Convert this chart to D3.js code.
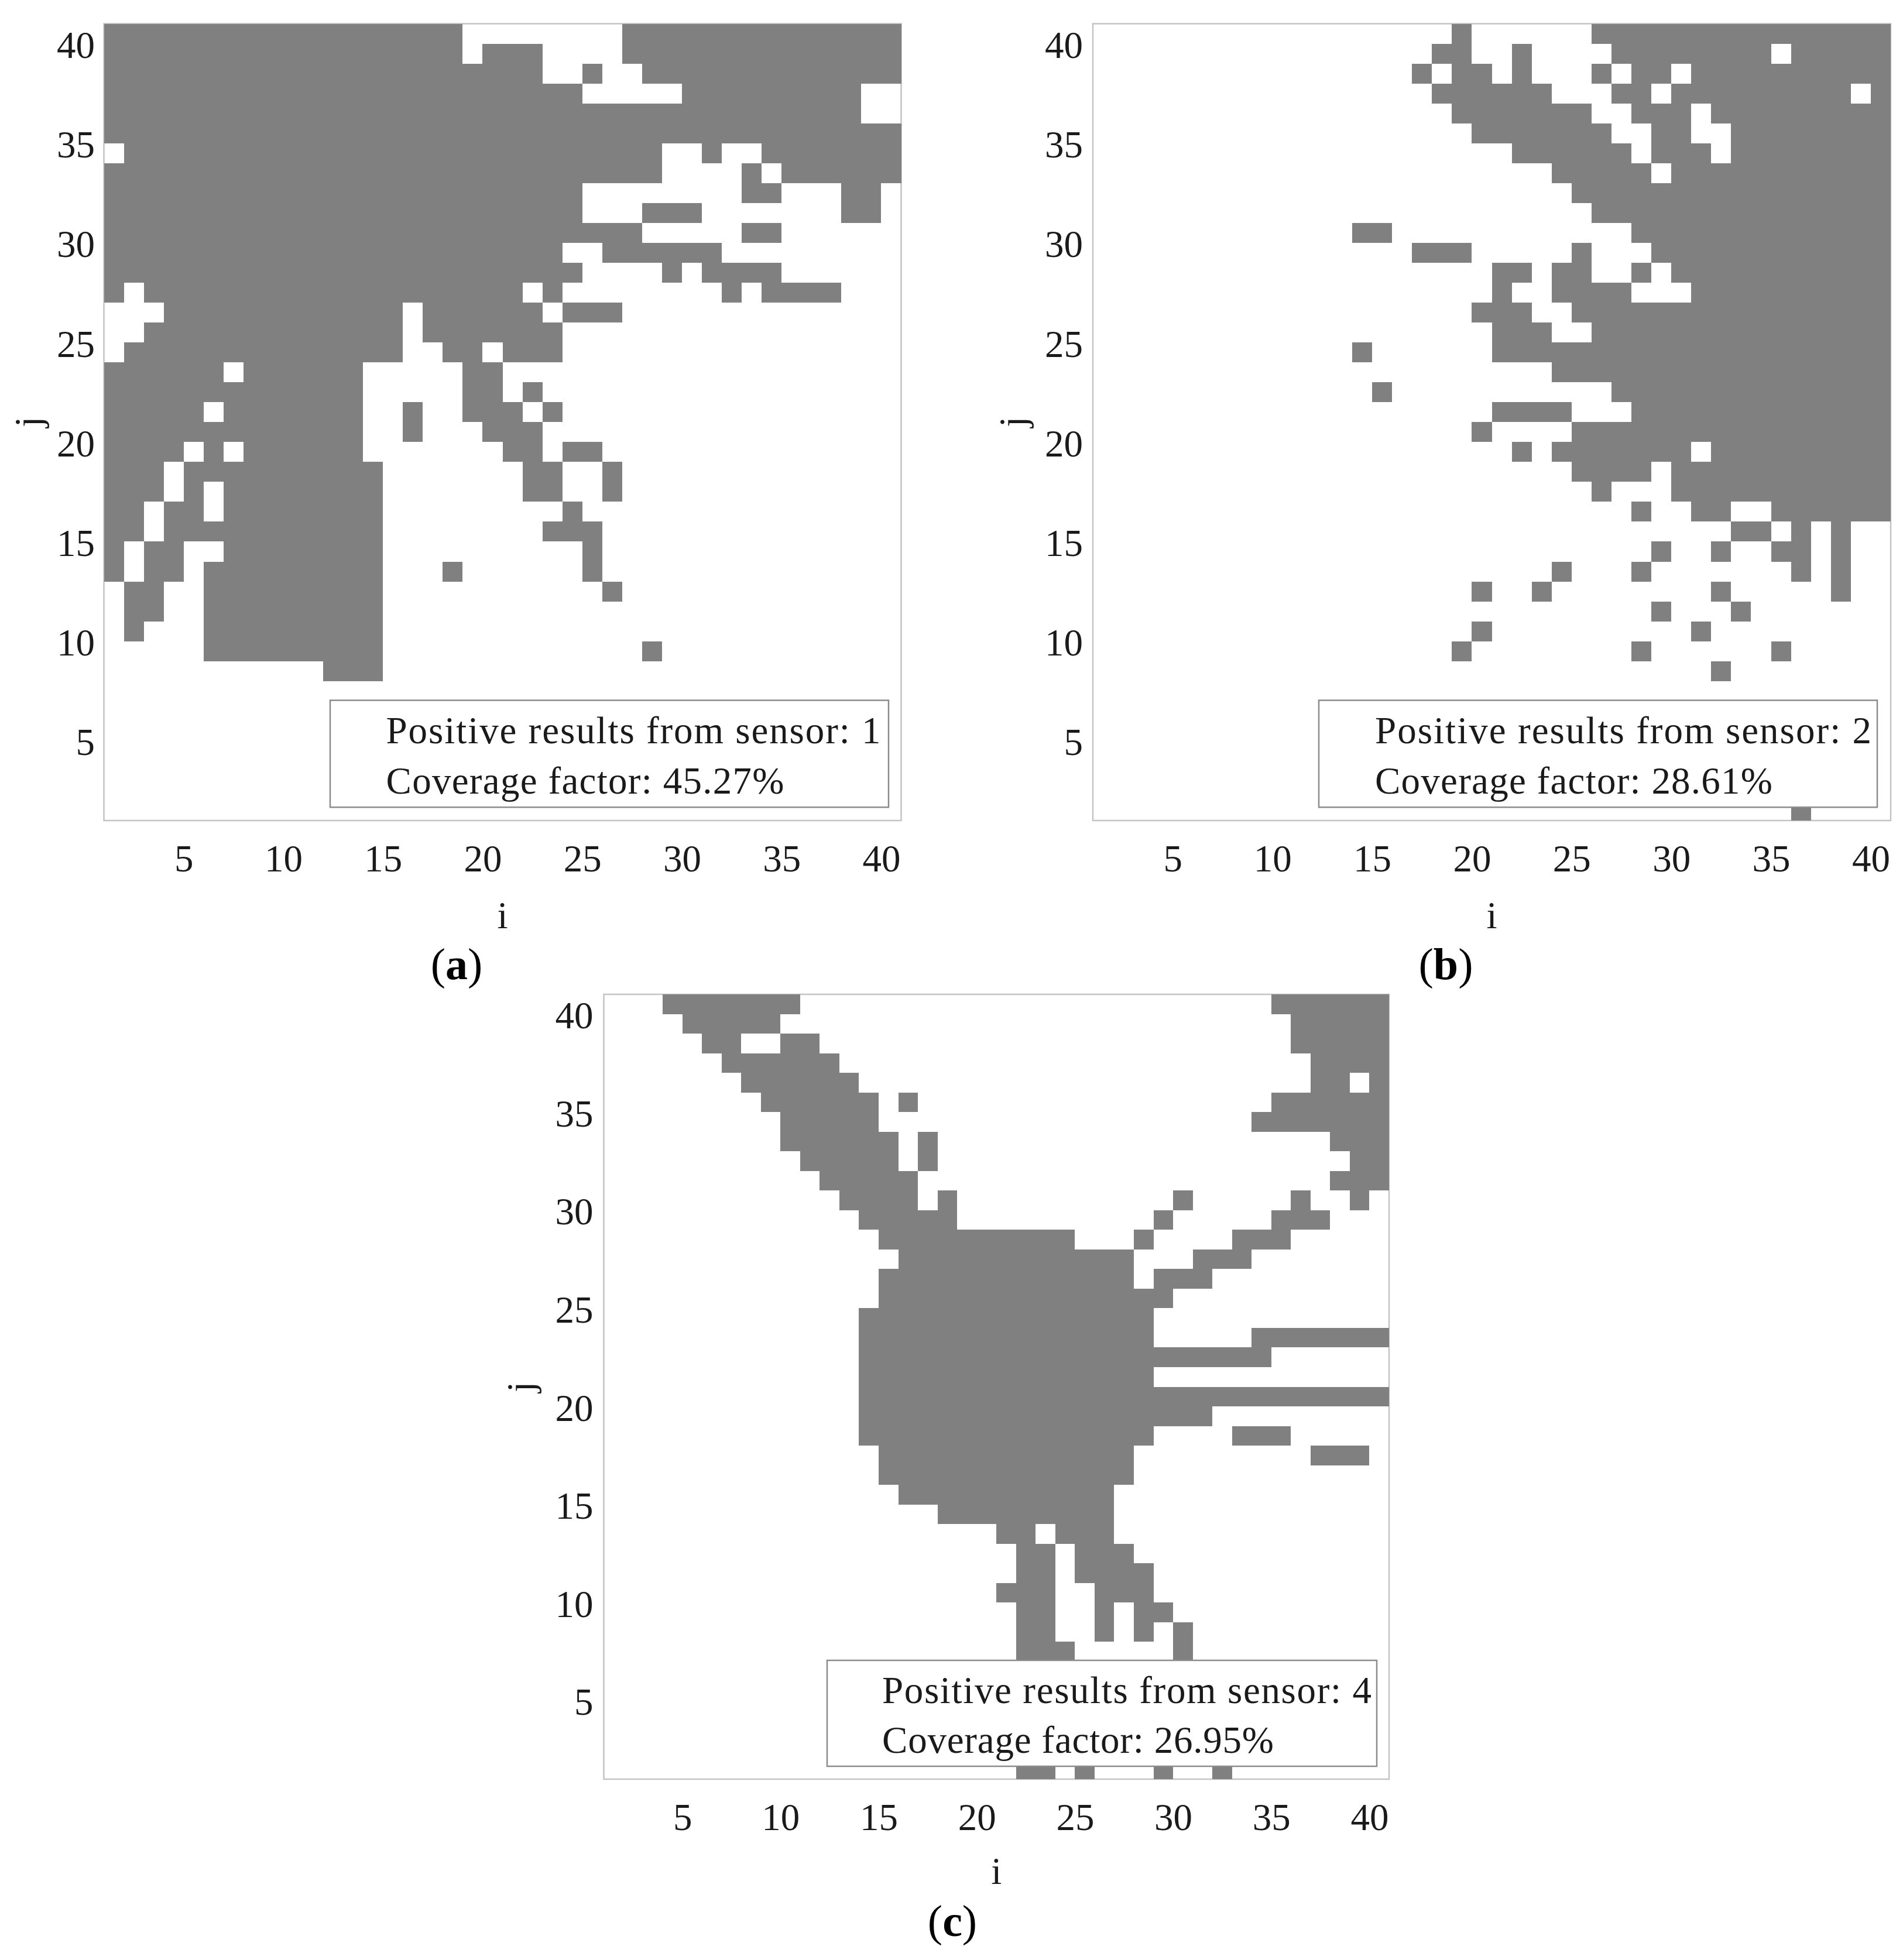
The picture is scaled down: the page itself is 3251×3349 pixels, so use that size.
<!DOCTYPE html>
<html>
<head>
<meta charset="utf-8">
<script src="https://cdn.jsdelivr.net/npm/d3@7"></script>
<style>html,body{margin:0;padding:0;background:#fff}svg{display:block}</style>
</head>
<body>
<script>
// Grid values: each row is [j, [firstI,lastI], [firstI,lastI], ...] = positive cells
const iTicks = [5,10,15,20,25,30,35,40];
const jTicks = [5,10,15,20,25,30,35,40];
const sensor1Rows = [
[40,[1,18],[27,40]],[39,[1,18],[20,22],[27,40]],[38,[1,22],[25,25],[28,40]],[37,[1,24],[30,38]],
[36,[1,38]],[35,[1,40]],[34,[2,28],[31,31],[34,40]],[33,[1,28],[33,33],[35,40]],
[32,[1,24],[33,34],[38,39]],[31,[1,24],[28,30],[38,39]],[30,[1,27],[33,34]],[29,[1,23],[26,31]],
[28,[1,24],[29,29],[31,34]],[27,[1,1],[3,21],[23,23],[32,32],[34,37]],[26,[4,15],[17,22],[24,26]],
[25,[3,15],[17,23]],[24,[2,15],[18,19],[21,23]],[23,[1,6],[8,13],[19,20]],[22,[1,13],[19,20],[22,22]],
[21,[1,5],[7,13],[16,16],[19,21],[23,23]],[20,[1,13],[16,16],[20,22]],
[19,[1,4],[6,6],[8,13],[21,22],[24,25]],[18,[1,3],[5,14],[22,23],[26,26]],
[17,[1,3],[5,5],[7,14],[22,23],[26,26]],[16,[1,2],[4,5],[7,14],[24,24]],[15,[1,2],[4,14],[23,25]],
[14,[1,1],[3,4],[7,14],[25,25]],[13,[1,1],[3,4],[6,14],[18,18],[25,25]],[12,[2,3],[6,14],[26,26]],
[11,[2,3],[6,14]],[10,[2,2],[6,14]],[9,[6,14],[28,28]],[8,[12,14]]
];
const sensor2Rows = [
[40,[19,19],[26,40]],[39,[18,19],[22,22],[27,34],[36,40]],[38,[17,17],[19,20],[22,22],[26,26],[28,29],[31,40]],
[37,[18,23],[27,28],[30,38],[40,40]],[36,[19,25],[28,30],[32,40]],[35,[20,26],[29,30],[33,40]],
[34,[22,27],[29,31],[33,40]],[33,[24,28],[30,40]],[32,[25,40]],[31,[26,40]],[30,[14,15],[28,40]],
[29,[17,19],[25,25],[29,40]],[28,[21,22],[24,25],[28,28],[30,40]],[27,[21,21],[24,27],[31,40]],
[26,[20,22],[25,40]],[25,[21,23],[26,40]],[24,[14,14],[21,40]],[23,[24,40]],[22,[15,15],[27,40]],
[21,[21,24],[28,40]],[20,[20,20],[25,40]],[19,[22,22],[24,30],[32,40]],[18,[25,28],[30,40]],
[17,[26,26],[30,40]],[16,[28,28],[31,32],[35,40]],[15,[33,34],[36,36],[38,38]],
[14,[29,29],[32,32],[35,36],[38,38]],[13,[24,24],[28,28],[36,36],[38,38]],
[12,[20,20],[23,23],[32,32],[38,38]],[11,[29,29],[33,33]],[10,[20,20],[31,31]],
[9,[19,19],[28,28],[35,35]],[8,[32,32]],[1,[36,36]]
];
const sensor4Rows = [
[40,[4,10],[35,40]],[39,[5,9],[36,40]],[38,[6,7],[10,11],[36,40]],[37,[7,12],[37,40]],
[36,[8,13],[37,38],[40,40]],[35,[9,14],[16,16],[35,40]],[34,[10,14],[34,40]],[33,[10,15],[17,17],[38,40]],
[32,[11,15],[17,17],[39,40]],[31,[12,16],[38,40]],[30,[13,16],[18,18],[30,30],[36,36],[39,39]],
[29,[14,18],[29,29],[35,37]],[28,[15,24],[28,28],[33,35]],[27,[16,27],[31,33]],[26,[15,27],[29,31]],
[25,[15,29]],[24,[14,28]],[23,[14,28],[34,40]],[22,[14,34]],[21,[14,28]],[20,[14,40]],[19,[14,31]],
[18,[14,28],[33,35]],[17,[15,27],[37,39]],[16,[15,27]],[15,[16,26]],[14,[18,26]],
[13,[21,22],[24,26]],[12,[22,23],[25,27]],[11,[22,23],[25,28]],[10,[21,23],[26,28]],
[9,[22,23],[26,26],[28,29]],[8,[22,23],[26,26],[28,28],[30,30]],[7,[22,24],[30,30]],
[1,[22,23],[25,25],[29,29],[32,32]]
];
const panelTags = ["a","b","c"];
const sensorIds = [1,2,4];
const coverages = ["45.27%","28.61%","26.95%"];

const W = 3251, H = 3349, FS = 65, GRAY = "#808080", SERIF = "'Liberation Serif','Times New Roman',serif";

const svg = d3.select("body").append("svg").attr("width",W).attr("height",H)
  .attr("viewBox",`0 0 ${W} ${H}`).style("font-family",SERIF);
svg.append("rect").attr("width",W).attr("height",H).attr("fill","#fff");

const layouts = [
 {rows:sensor1Rows,x0:177.5,x1:1539.5,y0:40.5,y1:1402,
  box:[564,1196.6,1518,1379.3],tx:659.5,b1:1269.6,b2:1356,l1:845,l2:680,tagX:780,tagY:1673,iY:184,jX:70,jY:721,tp:15.5},
 {rows:sensor2Rows,x0:1867,x1:3230,y0:40.5,y1:1402,
  box:[2253,1196.6,3207,1379.3],tx:2349,b1:1269.6,b2:1356,l1:848,l2:679,tagX:2470,tagY:1673,iY:184,jX:1752,jY:721,tp:17},
 {rows:sensor4Rows,x0:1031.5,x1:2373,y0:1699,y1:3040,
  box:[1413,2837,2352,3018],tx:1507,b1:2910,b2:2995,l1:836,l2:669,tagX:1627,tagY:3308,iY:179,jX:911,jY:2370,tp:18}
];

layouts.forEach((p,idx)=>{
  const x = d3.scaleLinear().domain([1,41]).range([p.x0,p.x1]);
  const y = d3.scaleLinear().domain([1,41]).range([p.y1,p.y0]);
  const g = svg.append("g");

  // frame
  g.append("rect").attr("x",p.x0).attr("y",p.y0).attr("width",p.x1-p.x0).attr("height",p.y1-p.y0)
    .attr("fill","#fff").attr("stroke","#c4c4c4").attr("stroke-width",2.5);

  // cells: cell (i,j) spans i..i+1 and j..j+1
  const cells = [];
  p.rows.forEach(([j,...runs])=>runs.forEach(([a,b])=>d3.range(a,b+1).forEach(i=>cells.push({i,j}))));
  g.append("g").attr("shape-rendering","crispEdges").selectAll("rect").data(cells).join("rect")
    .attr("x",d=>x(d.i)).attr("y",d=>y(d.j+1))
    .attr("width",d=>x(d.i+1)-x(d.i)).attr("height",d=>y(d.j)-y(d.j+1))
    .attr("fill",GRAY);

  // axes
  const ax = g.append("g").attr("transform",`translate(0,${p.y1})`)
    .call(d3.axisBottom(x).tickValues(iTicks).tickSize(0).tickPadding(41));
  const ay = g.append("g").attr("transform",`translate(${p.x0},0)`)
    .call(d3.axisLeft(y).tickValues(jTicks).tickSize(0).tickPadding(p.tp));
  [ax,ay].forEach(a=>{
    a.select(".domain").remove();
    a.selectAll("text").attr("font-size",FS).attr("font-family",SERIF).attr("fill","#1a1a1a");
  });
  ay.selectAll("text").attr("dy","0.37em");

  // axis titles
  g.append("text").attr("x",(p.x0+p.x1)/2).attr("y",p.y1+p.iY).attr("text-anchor","middle")
    .attr("font-size",FS).attr("fill","#1a1a1a").text("i");
  g.append("text").attr("transform",`translate(${p.jX},${p.jY}) rotate(-90)`).attr("text-anchor","middle")
    .attr("font-size",FS).attr("fill","#1a1a1a").text("j");

  // legend box
  const [bx0,by0,bx1,by1] = p.box;
  g.append("rect").attr("x",bx0).attr("y",by0).attr("width",bx1-bx0).attr("height",by1-by0)
    .attr("fill","#fff").attr("stroke","#8c8c8c").attr("stroke-width",2.5);
  g.append("text").attr("x",p.tx).attr("y",p.b1).attr("font-size",FS).attr("fill","#1a1a1a")
    .attr("textLength",p.l1).attr("lengthAdjust","spacing")
    .text(`Positive results from sensor: ${sensorIds[idx]}`);
  g.append("text").attr("x",p.tx).attr("y",p.b2).attr("font-size",FS).attr("fill","#1a1a1a")
    .attr("textLength",p.l2).attr("lengthAdjust","spacing")
    .text(`Coverage factor: ${coverages[idx]}`);

  // panel tag
  const t = svg.append("text").attr("x",p.tagX).attr("y",p.tagY).attr("text-anchor","middle")
    .attr("font-size",76).attr("fill","#000");
  t.append("tspan").text("(");
  t.append("tspan").attr("font-weight","bold").text(panelTags[idx]);
  t.append("tspan").text(")");
});
</script>
</body>
</html>
